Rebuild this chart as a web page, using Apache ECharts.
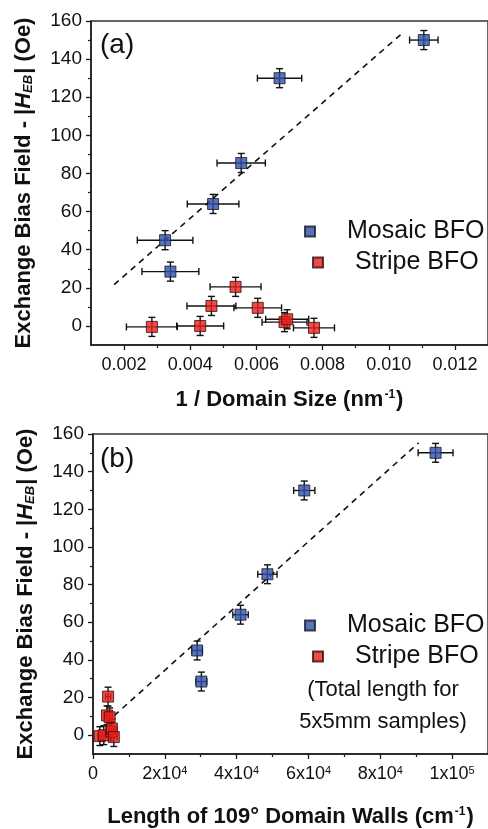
<!DOCTYPE html>
<html>
<head>
<meta charset="utf-8">
<script src="https://cdn.jsdelivr.net/npm/echarts@6/dist/echarts.min.js"></script>
<style>
html,body{margin:0;padding:0;background:#fff;}
#chart{width:488px;height:829px;}
</style>
</head>
<body>
<div id="chart"></div>
<script>
// ---- data ----
const mosaicHeb      = [150, 130, 85.5, 64, 45, 28.5];
const mosaicHebErr   = [5, 5, 5, 5, 5, 5];
const mosaicInvSize    = [0.01106, 0.0067, 0.00554, 0.00469, 0.00324, 0.0034];
const mosaicInvSizeErr = [0.00043, 0.00067, 0.00073, 0.00078, 0.00084, 0.00086];
const mosaicWall    = [95400, 58830, 48570, 41090, 29000, 30180];
const mosaicWallErr = [4860, 2950, 2680, 2140, 1450, 1500];

const stripeHeb      = [-0.5, 0, 10.5, 20.5, 9.5, 2, 3.5, -1];
const stripeHebErr   = [5, 5, 5, 5, 5, 5, 5, 5];
const stripeInvSize    = [0.00284, 0.0043, 0.00464, 0.00537, 0.00604, 0.00685, 0.00693, 0.00774];
const stripeInvSizeErr = [0.00077, 0.00071, 0.00074, 0.00077, 0.00072, 0.00068, 0.00065, 0.00062];
const stripeWall    = [1900, 3000, 3900, 4200, 4640, 5080, 5270, 5800];
const stripeWallErr = [500, 600, 700, 700, 800, 800, 800, 900];

const fitAx = [0.0017, 0.01045];
const fitAy = [21.7, 154.2];
const fitBx = [3630, 90670];
const fitBy = [6.5, 155.3];

const yTicks      = [0, 20, 40, 60, 80, 100, 120, 140, 160];
const yMinorTicks = [10, 30, 50, 70, 90, 110, 130, 150];
const xTicksA      = [0.002, 0.004, 0.006, 0.008, 0.010, 0.012];
const xMinorTicksA = [0.003, 0.005, 0.007, 0.009, 0.011];
const xTicksB      = [0, 20000, 40000, 60000, 80000, 100000];
const xMinorTicksB = [10000, 30000, 50000, 70000, 90000];

const seriesNames = ['Mosaic BFO', 'Stripe BFO'];
const noteLines = ['(Total length for', '5x5mm samples)'];

// ---- helpers ----
const FONT = '"Liberation Sans", Arial, sans-serif';
const BLUE = '#2f50a8';
const RED = '#e8201c';
const zip = (xs, ys) => xs.map((x, i) => [x, ys[i]]);
const zip4 = (xs, ys, ex, ey) => xs.map((x, i) => [x, ys[i], ex[i], ey[i]]);

function errRender(params, api) {
  const x = api.value(0), y = api.value(1), ex = api.value(2), ey = api.value(3);
  const l = api.coord([x - ex, y]), r = api.coord([x + ex, y]);
  const t = api.coord([x, y + ey]), b = api.coord([x, y - ey]);
  const cap = 3.5;
  const st = { stroke: '#111', lineWidth: 1.4 };
  const line = (x1, y1, x2, y2) => ({ type: 'line', shape: { x1, y1, x2, y2 }, style: st });
  return {
    type: 'group',
    children: [
      line(l[0], l[1], r[0], r[1]),
      line(l[0], l[1] - cap, l[0], l[1] + cap),
      line(r[0], r[1] - cap, r[0], r[1] + cap),
      line(t[0], t[1], b[0], b[1]),
      line(t[0] - cap, t[1], t[0] + cap, t[1]),
      line(b[0] - cap, b[1], b[0] + cap, b[1])
    ]
  };
}

const axisLineStyle = { color: '#1a1a1a', width: 1.5 };

function yAxesFor(gridIndex) {
  return [
    {
      type: 'value', gridIndex, position: 'left', min: -10, max: 160, interval: 10,
      axisLine: { show: true, onZero: false, lineStyle: axisLineStyle },
      axisTick: { show: true, customValues: yTicks, length: 5, lineStyle: { color: '#1a1a1a', width: 1.3 } },
      axisLabel: { customValues: yTicks, margin: 9, fontFamily: FONT, fontSize: 19, color: '#111' },
      splitLine: { show: false },
      name: '{b|Exchange Bias Field - |}{i|H}{s|EB}{b|| (Oe)}',
      nameLocation: 'middle', nameGap: 56,
      nameTextStyle: {
        rich: {
          b: { fontFamily: FONT, fontSize: 22, fontWeight: 'bold', color: '#111' },
          i: { fontFamily: FONT, fontSize: 22, fontWeight: 'bold', fontStyle: 'italic', color: '#111' },
          s: { fontFamily: FONT, fontSize: 13, fontWeight: 'bold', fontStyle: 'italic', color: '#111', verticalAlign: 'bottom', padding: [8, 1, 0, 0] }
        }
      }
    },
    {
      type: 'value', gridIndex, position: 'left', min: -10, max: 160, interval: 10,
      axisLine: { show: false, onZero: false },
      axisTick: { show: true, customValues: yMinorTicks, length: 3, lineStyle: { color: '#1a1a1a', width: 1.2 } },
      axisLabel: { show: false },
      splitLine: { show: false }
    }
  ];
}

const supRich = {
  sup: { fontFamily: FONT, fontSize: 11, color: '#111', verticalAlign: 'top', padding: [0, 0, 8, 0] }
};

function fmtB(v) {
  if (v === 0) return '0';
  const e = Math.floor(Math.log10(v) + 1e-9);
  const m = Math.round(v / Math.pow(10, e));
  return m + 'x10{sup|' + e + '}';
}

const titleRich = {
  b: { fontFamily: FONT, fontSize: 22, fontWeight: 'bold', color: '#111' },
  sup: { fontFamily: FONT, fontSize: 12, fontWeight: 'bold', color: '#111', verticalAlign: 'top', padding: [0, 1, 8, 1] }
};

const option = {
  backgroundColor: '#fff',
  animation: false,
  textStyle: { fontFamily: FONT },
  grid: [
    { left: 91, top: 21, width: 404, height: 324, show: true, borderColor: '#333', borderWidth: 1.5, containLabel: false },
    { left: 93, top: 434, width: 403, height: 323, show: true, borderColor: '#333', borderWidth: 1.5, containLabel: false }
  ],
  xAxis: [
    {
      type: 'value', gridIndex: 0, position: 'bottom', min: 0.001, max: 0.013, interval: 0.001,
      axisLine: { show: true, onZero: false, lineStyle: axisLineStyle },
      axisTick: { show: true, customValues: xTicksA, length: 5, lineStyle: { color: '#1a1a1a', width: 1.3 } },
      axisLabel: { customValues: xTicksA, margin: 11, fontFamily: FONT, fontSize: 18, color: '#111', formatter: v => v.toFixed(3) },
      splitLine: { show: false },
      name: '{b|1 / Domain Size (nm}{sup|-1}{b|)}',
      nameLocation: 'middle', nameGap: 44,
      nameTextStyle: { rich: titleRich }
    },
    {
      type: 'value', gridIndex: 0, position: 'bottom', min: 0.001, max: 0.013, interval: 0.001,
      axisLine: { show: false, onZero: false },
      axisTick: { show: true, customValues: xMinorTicksA, length: 3, lineStyle: { color: '#1a1a1a', width: 1.2 } },
      axisLabel: { show: false }, splitLine: { show: false }
    },
    {
      type: 'value', gridIndex: 1, position: 'bottom', min: 0, max: 110000, interval: 10000,
      axisLine: { show: true, onZero: false, lineStyle: axisLineStyle },
      axisTick: { show: true, customValues: xTicksB, length: 5, lineStyle: { color: '#1a1a1a', width: 1.3 } },
      axisLabel: { customValues: xTicksB, margin: 11, fontFamily: FONT, fontSize: 18, color: '#111', formatter: fmtB, rich: supRich },
      splitLine: { show: false },
      name: '{b|Length of 109° Domain Walls (cm}{sup|-1}{b|)}',
      nameLocation: 'middle', nameGap: 52,
      nameTextStyle: { rich: titleRich }
    },
    {
      type: 'value', gridIndex: 1, position: 'bottom', min: 0, max: 110000, interval: 10000,
      axisLine: { show: false, onZero: false },
      axisTick: { show: true, customValues: xMinorTicksB, length: 3, lineStyle: { color: '#1a1a1a', width: 1.2 } },
      axisLabel: { show: false }, splitLine: { show: false }
    }
  ],
  yAxis: [].concat(yAxesFor(0), yAxesFor(1)),
  legend: [
    { data: [seriesNames[0]], left: 304, top: 219 },
    { data: [seriesNames[1]], left: 312, top: 250 },
    { data: [seriesNames[0]], left: 304, top: 613 },
    { data: [seriesNames[1]], left: 312, top: 644 }
  ].map(l => Object.assign({
    orient: 'vertical', padding: 0, itemWidth: 10, itemHeight: 10,
    selectedMode: false,
    formatter: '{g|}{t|{name}}',
    textStyle: { rich: { g: { width: 27 }, t: { fontFamily: FONT, fontSize: 25, color: '#111', lineHeight: 28 } } }
  }, l)),
  graphic: [
    { type: 'text', left: 100, top: 31, style: { text: '(a)', fontFamily: FONT, fontSize: 28, fill: '#111' } },
    { type: 'text', left: 100, top: 445, style: { text: '(b)', fontFamily: FONT, fontSize: 28, fill: '#111' } },
    { type: 'text', x: 383, y: 690, style: { text: noteLines[0], fontFamily: FONT, fontSize: 22, fill: '#111', align: 'center', verticalAlign: 'middle' } },
    { type: 'text', x: 383, y: 722, style: { text: noteLines[1], fontFamily: FONT, fontSize: 22, fill: '#111', align: 'center', verticalAlign: 'middle' } }
  ],
  series: [
    // fit lines
    { type: 'line', name: 'fitA', xAxisIndex: 0, yAxisIndex: 0, data: zip(fitAx, fitAy), symbol: 'none',
      lineStyle: { color: '#111', width: 1.6, type: [6, 5] }, z: 2, silent: true },
    { type: 'line', name: 'fitB', xAxisIndex: 2, yAxisIndex: 2, data: zip(fitBx, fitBy), symbol: 'none',
      lineStyle: { color: '#111', width: 1.6, type: [6, 5] }, z: 2, silent: true },
    // error bars
    { type: 'custom', name: 'errMA', xAxisIndex: 0, yAxisIndex: 0, renderItem: errRender,
      data: zip4(mosaicInvSize, mosaicHeb, mosaicInvSizeErr, mosaicHebErr), z: 3, silent: true },
    { type: 'custom', name: 'errSA', xAxisIndex: 0, yAxisIndex: 0, renderItem: errRender,
      data: zip4(stripeInvSize, stripeHeb, stripeInvSizeErr, stripeHebErr), z: 3, silent: true },
    { type: 'custom', name: 'errMB', xAxisIndex: 2, yAxisIndex: 2, renderItem: errRender,
      data: zip4(mosaicWall, mosaicHeb, mosaicWallErr, mosaicHebErr), z: 3, silent: true },
    { type: 'custom', name: 'errSB', xAxisIndex: 2, yAxisIndex: 2, renderItem: errRender,
      data: zip4(stripeWall, stripeHeb, stripeWallErr, stripeHebErr), z: 3, silent: true },
    // markers
    { type: 'scatter', name: seriesNames[0], xAxisIndex: 0, yAxisIndex: 0, data: zip(mosaicInvSize, mosaicHeb),
      symbol: 'rect', symbolSize: 11, itemStyle: { color: BLUE, borderColor: '#15152a', borderWidth: 1 }, z: 4 },
    { type: 'scatter', name: seriesNames[1], xAxisIndex: 0, yAxisIndex: 0, data: zip(stripeInvSize, stripeHeb),
      symbol: 'rect', symbolSize: 11, itemStyle: { color: RED, borderColor: '#3a0a0a', borderWidth: 1 }, z: 4 },
    { type: 'scatter', name: seriesNames[0], xAxisIndex: 2, yAxisIndex: 2, data: zip(mosaicWall, mosaicHeb),
      symbol: 'rect', symbolSize: 11, itemStyle: { color: BLUE, borderColor: '#15152a', borderWidth: 1 }, z: 4 },
    { type: 'scatter', name: seriesNames[1], xAxisIndex: 2, yAxisIndex: 2, data: zip(stripeWall, stripeHeb),
      symbol: 'rect', symbolSize: 11, itemStyle: { color: RED, borderColor: '#3a0a0a', borderWidth: 1 }, z: 4 }
  ]
};

const chart = echarts.init(document.getElementById('chart'), null, { renderer: 'canvas' });
chart.setOption(option);
</script>
</body>
</html>
